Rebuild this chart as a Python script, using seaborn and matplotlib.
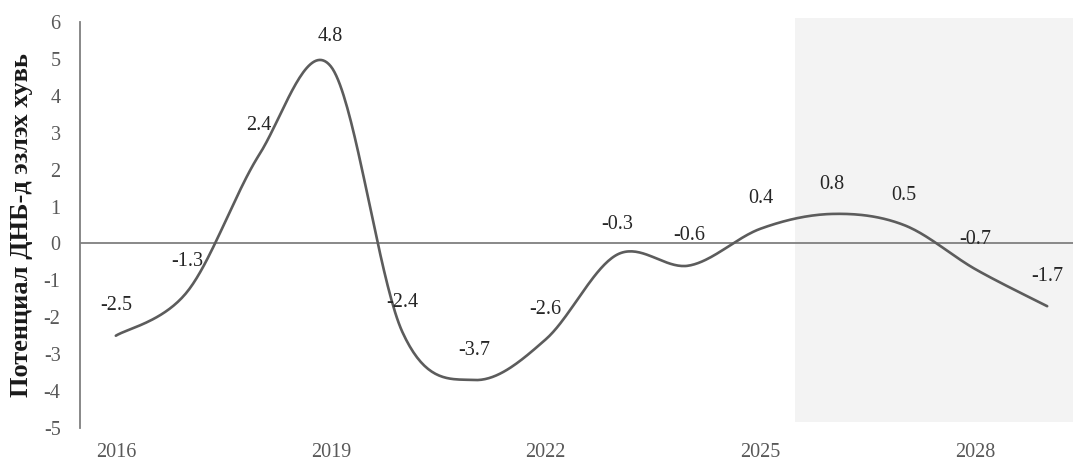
import numpy as np
import pandas as pd
import matplotlib
matplotlib.use("Agg")
import matplotlib.pyplot as plt
import seaborn as sns

# Output gap, % of potential GDP
years = list(range(2016, 2030))
gap = [-2.5, -1.3, 2.4, 4.8, -2.4, -3.7, -2.6, -0.3, -0.6, 0.4, 0.8, 0.5, -0.7, -1.7]
tick_years = [2016, 2019, 2022, 2025, 2028]
y_ticks = list(range(-5, 7))
forecast_start = 2025.48
y_label = "Потенциал ДНБ-д эзлэх хувь"


def smooth_line(x, y, n=40):
    """Bezier smoothing through every point (spreadsheet-style smoothed line)."""
    pts = np.column_stack([x, y]).astype(float)
    padded = np.vstack([pts[0], pts, pts[-1]])
    segs = []
    for i in range(1, len(padded) - 2):
        p0, p1, p2, p3 = padded[i - 1], padded[i], padded[i + 1], padded[i + 2]
        c1 = p1 + (p2 - p0) / 6.0
        c2 = p2 - (p3 - p1) / 6.0
        t = np.linspace(0, 1, n)[:, None]
        seg = ((1 - t) ** 3) * p1 + 3 * ((1 - t) ** 2) * t * c1 \
            + 3 * (1 - t) * t ** 2 * c2 + t ** 3 * p2
        segs.append(seg if i == 1 else seg[1:])
    return np.vstack(segs)


sns.set_theme(style="white")
plt.rcParams["font.family"] = ["Liberation Serif", "DejaVu Serif"]

fig = plt.figure(figsize=(10.73, 4.62), dpi=100)
ax = fig.add_axes([80 / 1073, 34 / 462, 1003 / 1073, 406 / 462])

# forecast period shading
ax.axvspan(forecast_start, 2030.0, ymin=0.0145, ymax=1.01, color="#f3f3f3",
           zorder=0, clip_on=False, lw=0)

ax.axhline(0, color="#7f7f7f", lw=1.3, zorder=1)

curve = smooth_line(years, gap)
df = pd.DataFrame({"year": curve[:, 0], "value": curve[:, 1]})
sns.lineplot(data=df, x="year", y="value", sort=False, estimator=None,
             color="#5c5c5c", lw=1.9, ax=ax, zorder=3)

for yr, v in zip(years, gap):
    ax.annotate(f"{v:.1f}", (yr, v), xytext=(0, 21.5), textcoords="offset points",
                ha="center", va="center", fontsize=14.5, color="#262626", zorder=4)

ax.set_xlim(2015.5, 2029.5)
ax.set_ylim(-5, 6)
ax.set_xticks(tick_years)
ax.set_xticklabels([str(t) for t in tick_years])
ax.set_yticks(y_ticks)
ax.set_yticklabels([str(t) for t in y_ticks])
ax.tick_params(axis="both", length=0, labelsize=14.5, labelcolor="#595959")
ax.tick_params(axis="x", pad=11)
ax.tick_params(axis="y", pad=14)
ax.set_xlabel("")
ax.set_ylabel(y_label, fontsize=19, fontweight="bold", color="#1a1a1a", labelpad=8)

for side in ["top", "right", "bottom"]:
    ax.spines[side].set_visible(False)
ax.spines["left"].set_color("#7f7f7f")
ax.spines["left"].set_linewidth(1.3)
ax.set_facecolor("none")

fig.savefig("out.png", dpi=100)
